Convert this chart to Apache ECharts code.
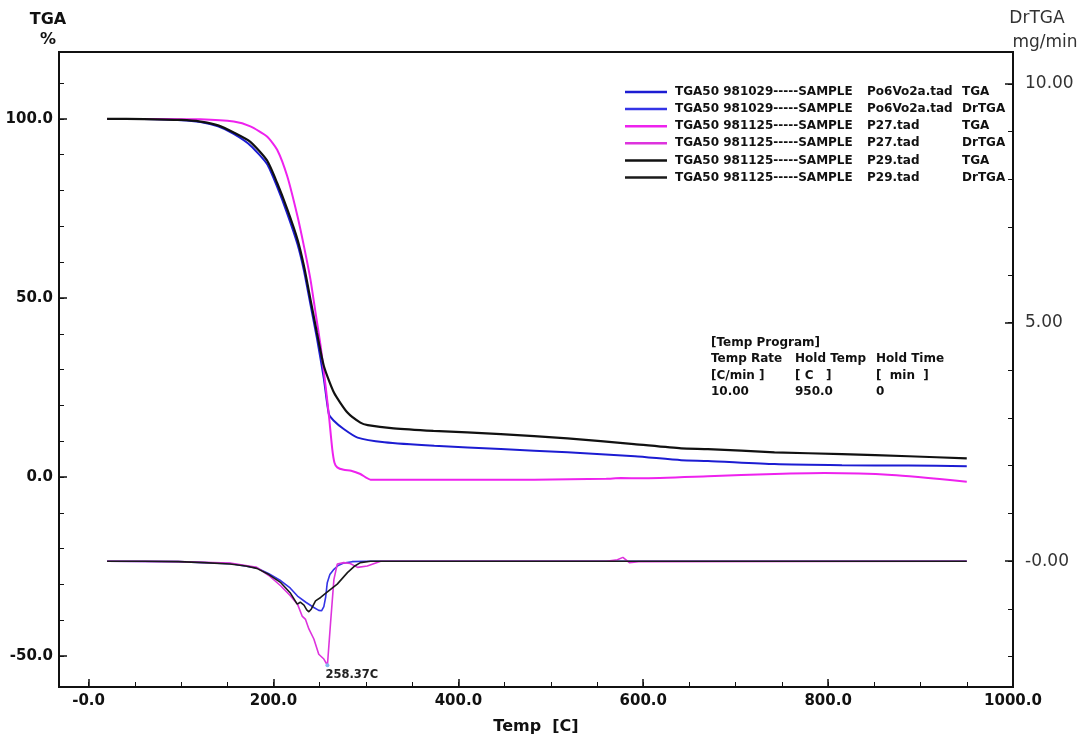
<!DOCTYPE html>
<html>
<head>
<meta charset="utf-8">
<script src="https://cdn.jsdelivr.net/npm/echarts@6/dist/echarts.min.js"></script>
<style>html,body{margin:0;padding:0;background:#fff}#c{width:1084px;height:740px}</style>
</head>
<body>
<div id="c"></div>
<script>
// ---- Data ----
// Sample Po6Vo2a (blue)
const blueTgaT = [20, 60, 100, 121, 140, 157, 175, 193, 204, 215, 226, 233, 240, 247, 254.5, 260, 265, 276, 291, 320, 374, 446, 518, 591, 641, 670, 742, 815, 887, 950];
const blueTgaV = [100, 99.95, 99.65, 99.1, 97.9, 95.8, 92.6, 87.4, 81.0, 73.5, 65.0, 57.6, 48.2, 38.8, 27.5, 17.5, 15.8, 13.4, 11.0, 9.7, 8.7, 7.8, 6.9, 5.8, 4.7, 4.5, 3.6, 3.3, 3.2, 3.0];
const blueDrT = [20, 97, 153, 182, 195, 208, 218, 226, 235, 243.7, 249, 252, 254.5, 256.5, 258.2, 261, 265.4, 270, 276, 285, 300, 950];
const blueDrV = [0, -0.01, -0.05, -0.14, -0.26, -0.41, -0.56, -0.73, -0.86, -0.97, -1.03, -1.04, -0.95, -0.75, -0.45, -0.28, -0.17, -0.09, -0.04, -0.01, 0, 0];
// Sample P27 (magenta)
const magTgaT = [20, 67, 121, 157, 175, 193, 204, 215, 226, 233, 240, 245.5, 251, 256.4, 260, 263.6, 266, 269, 276, 284, 294, 305, 373, 482, 560, 576, 598, 670, 742, 796, 869, 950];
const magTgaV = [100, 100, 99.9, 99.25, 97.9, 95.1, 91.4, 83.9, 72.8, 64.4, 55.2, 45.9, 36.6, 25.4, 17.1, 7.8, 4.0, 2.7, 2.0, 1.75, 0.84, -0.75, -0.75, -0.75, -0.5, -0.3, -0.36, 0.2, 0.84, 1.1, 0.56, -1.3];
const magDrT = [20, 97, 153, 182, 195, 208, 218, 226, 231, 234.7, 238.3, 243.7, 249, 254.5, 258.37, 261.8, 265.4, 269, 276, 283, 291, 301.5, 316, 560, 572, 578, 585, 595, 950];
const magDrV = [0, -0.01, -0.04, -0.13, -0.30, -0.52, -0.72, -0.90, -1.15, -1.22, -1.42, -1.63, -1.95, -2.05, -2.18, -1.28, -0.38, -0.06, -0.03, -0.05, -0.13, -0.10, 0, 0, 0.03, 0.08, -0.03, -0.01, 0];
// Sample P29 (black)
const blkTgaT = [20, 60, 100, 121, 140, 157, 175, 193, 204, 215, 226, 233, 240, 247, 254.5, 265.4, 280, 294, 302, 330, 373, 446, 518, 590, 641, 670, 742, 815, 887, 950];
const blkTgaV = [100, 99.95, 99.7, 99.25, 98.2, 96.2, 93.6, 88.4, 82.1, 74.7, 66.3, 58.9, 49.6, 40.3, 31.0, 23.6, 18.0, 15.2, 14.5, 13.6, 12.9, 12.0, 10.8, 9.2, 8.0, 7.8, 6.9, 6.4, 5.8, 5.2];
const blkDrT = [20, 60, 97, 125, 153, 170, 182, 195, 208, 218, 225.7, 229, 233, 236, 238.3, 241, 245.5, 251, 258, 269, 280, 288, 294, 305, 330, 950];
const blkDrV = [0, 0, -0.01, -0.03, -0.06, -0.10, -0.15, -0.28, -0.45, -0.66, -0.90, -0.86, -0.92, -1.02, -1.06, -1.00, -0.83, -0.76, -0.65, -0.48, -0.24, -0.10, -0.03, 0, 0, 0];

// Peak annotation
const peakT = 258.37;
const peakV = -2.18;
const peakLabel = '258.37C';

// Axis ticks / labels
const xLabelValues = [0, 200, 400, 600, 800, 1000];
const xMinorTicks = [0, 50, 100, 150, 200, 250, 300, 350, 400, 450, 500, 550, 600, 650, 700, 750, 800, 850, 900, 950, 1000];
const tgaLabelValues = [-50, 0, 50, 100];
const tgaMinorTicks = [-50, -40, -30, -20, -10, 0, 10, 20, 30, 40, 50, 60, 70, 80, 90, 100, 110];
const drLabelValues = [0, 5, 10];
const drMinorTicks = [-2, -1, 0, 1, 2, 3, 4, 5, 6, 7, 8, 9, 10];

// Legend names: run | file | signal
const seriesNames = [
  'TGA50 981029-----SAMPLE|Po6Vo2a.tad|TGA',
  'TGA50 981029-----SAMPLE|Po6Vo2a.tad|DrTGA',
  'TGA50 981125-----SAMPLE|P27.tad|TGA',
  'TGA50 981125-----SAMPLE|P27.tad|DrTGA',
  'TGA50 981125-----SAMPLE|P29.tad|TGA',
  'TGA50 981125-----SAMPLE|P29.tad|DrTGA'
];

// Temp program table
const progRows = [
  ['[Temp Program]', '', ''],
  ['Temp Rate', 'Hold Temp', 'Hold Time'],
  ['[C/min ]', '[ C   ]', '[  min  ]'],
  ['10.00', '950.0', '0']
];

// ---- Build ----
const zip = (a, b) => a.map((t, i) => [t, b[i]]);
const FONT = 'DejaVu Sans';
const X_MIN = -32, X_MAX = 1000;
const TGA_MIN = -58.64, TGA_MAX = 118.68;
const DR_MIN = -2.636, DR_MAX = 10.669;

const chart = echarts.init(document.getElementById('c'), null, {renderer: 'canvas'});

function lineSeries(name, data, color, width, yIdx, extra) {
  return Object.assign({
    name: name, type: 'line', data: data, xAxisIndex: 0, yAxisIndex: yIdx,
    showSymbol: false, symbol: 'none', smooth: yIdx === 0 ? 0.2 : false,
    lineStyle: {color: color, width: width}, itemStyle: {color: color},
    emphasis: {disabled: true}, z: 3
  }, extra || {});
}

const texts = [];
texts.push({type: 'text', x: 48, y: 20, style: {text: 'TGA', font: 'bold 16px "DejaVu Sans"', fill: '#111', align: 'center', verticalAlign: 'middle'}});
texts.push({type: 'text', x: 48, y: 40, style: {text: '%', font: 'bold 16px "DejaVu Sans"', fill: '#111', align: 'center', verticalAlign: 'middle'}});
texts.push({type: 'text', x: 1037, y: 19, style: {text: 'DrTGA', font: '17px "DejaVu Sans"', fill: '#333', align: 'center', verticalAlign: 'middle'}});
texts.push({type: 'text', x: 1045, y: 43, style: {text: 'mg/min', font: '17px "DejaVu Sans"', fill: '#333', align: 'center', verticalAlign: 'middle'}});
const progColX = [711, 795, 876];
const progRowY = [343, 359, 375.5, 392];
progRows.forEach((row, r) => {
  row.forEach((cell, c) => {
    if (!cell) return;
    texts.push({type: 'text', x: progColX[c], y: progRowY[r], style: {text: cell, font: 'bold 12px "DejaVu Sans"', fill: '#111', align: 'left', verticalAlign: 'middle'}});
  });
});

const legendData = seriesNames.map((n) => ({name: n}));

const option = {
  animation: false,
  backgroundColor: '#fff',
  grid: {left: 59, right: 71, top: 52, bottom: 52, show: true, borderColor: '#111', borderWidth: 2, backgroundColor: 'transparent'},
  legend: {
    orient: 'vertical', left: 625, top: 86, padding: 0, icon: 'rect', itemWidth: 42, itemHeight: 2.5, itemGap: 5.1,
    selectedMode: false,
    textStyle: {fontFamily: FONT, fontWeight: 'bold', fontSize: 12, color: '#111', padding: [0, 0, 0, 3],
      rich: {
        a: {width: 192, fontFamily: FONT, fontWeight: 'bold', fontSize: 12, color: '#111', lineHeight: 13},
        b: {width: 95, fontFamily: FONT, fontWeight: 'bold', fontSize: 12, color: '#111', lineHeight: 13},
        c: {fontFamily: FONT, fontWeight: 'bold', fontSize: 12, color: '#111', lineHeight: 13}
      }},
    formatter: function (name) {
      const p = name.split('|');
      return '{a|' + p[0] + '}{b|' + p[1] + '}{c|' + p[2] + '}';
    },
    data: legendData
  },
  xAxis: [
    {
      type: 'value', min: X_MIN, max: X_MAX, position: 'bottom',
      name: 'Temp  [C]', nameLocation: 'middle', nameGap: 32,
      nameTextStyle: {fontFamily: FONT, fontWeight: 'bold', fontSize: 16, color: '#111'},
      axisLine: {show: false, onZero: false},
      splitLine: {show: false},
      axisTick: {show: true, inside: true, length: 8, customValues: xLabelValues, lineStyle: {color: '#111', width: 1.5}},
      axisLabel: {customValues: xLabelValues, margin: 7, fontFamily: FONT, fontWeight: 'bold', fontSize: 15, color: '#111',
        formatter: v => v === 0 ? '-0.0' : v.toFixed(1)}
    },
    {
      type: 'value', min: X_MIN, max: X_MAX, position: 'bottom',
      axisLine: {show: false, onZero: false}, splitLine: {show: false},
      axisTick: {show: true, inside: true, length: 5, customValues: xMinorTicks, lineStyle: {color: '#111', width: 1}},
      axisLabel: {show: false}
    }
  ],
  yAxis: [
    {
      type: 'value', min: TGA_MIN, max: TGA_MAX, position: 'left',
      axisLine: {show: false, onZero: false}, splitLine: {show: false},
      axisTick: {show: true, inside: true, length: 8, customValues: tgaLabelValues, lineStyle: {color: '#111', width: 1.5}},
      axisLabel: {customValues: tgaLabelValues, margin: 6, fontFamily: FONT, fontWeight: 'bold', fontSize: 15, color: '#111',
        formatter: v => v.toFixed(1)}
    },
    {
      type: 'value', min: TGA_MIN, max: TGA_MAX, position: 'left',
      axisLine: {show: false, onZero: false}, splitLine: {show: false},
      axisTick: {show: true, inside: true, length: 5, customValues: tgaMinorTicks, lineStyle: {color: '#111', width: 1}},
      axisLabel: {show: false}
    },
    {
      type: 'value', min: DR_MIN, max: DR_MAX, position: 'right',
      axisLine: {show: false, onZero: false}, splitLine: {show: false},
      axisTick: {show: true, inside: true, length: 8, customValues: drLabelValues, lineStyle: {color: '#111', width: 1.5}},
      axisLabel: {customValues: drLabelValues, margin: 12, fontFamily: FONT, fontSize: 17, color: '#333',
        formatter: v => v === 0 ? '-0.00' : v.toFixed(2)}
    },
    {
      type: 'value', min: DR_MIN, max: DR_MAX, position: 'right',
      axisLine: {show: false, onZero: false}, splitLine: {show: false},
      axisTick: {show: true, inside: true, length: 5, customValues: drMinorTicks, lineStyle: {color: '#111', width: 1}},
      axisLabel: {show: false}
    }
  ],
  series: [
    lineSeries(seriesNames[0], zip(blueTgaT, blueTgaV), '#1c1cd2', 2, 0),
    lineSeries(seriesNames[1], zip(blueDrT, blueDrV), '#3434e6', 1.6, 2),
    lineSeries(seriesNames[2], zip(magTgaT, magTgaV), '#ee22ee', 2, 0),
    lineSeries(seriesNames[3], zip(magDrT, magDrV), '#dd33dd', 1.6, 2, {
      markPoint: {
        symbol: 'circle', symbolSize: 4, silent: true,
        itemStyle: {color: '#80b8f0'},
        label: {show: true, position: [0, 6], align: 'left', verticalAlign: 'top', formatter: peakLabel,
          fontFamily: FONT, fontWeight: 'bold', fontSize: 11.5, color: '#222'},
        data: [{coord: [peakT, peakV]}]
      }
    }),
    lineSeries(seriesNames[4], zip(blkTgaT, blkTgaV), '#111111', 2.2, 0),
    lineSeries(seriesNames[5], zip(blkDrT, blkDrV), '#1a1a1a', 1.6, 2)
  ],
  graphic: texts
};
chart.setOption(option);
</script>
</body>
</html>
